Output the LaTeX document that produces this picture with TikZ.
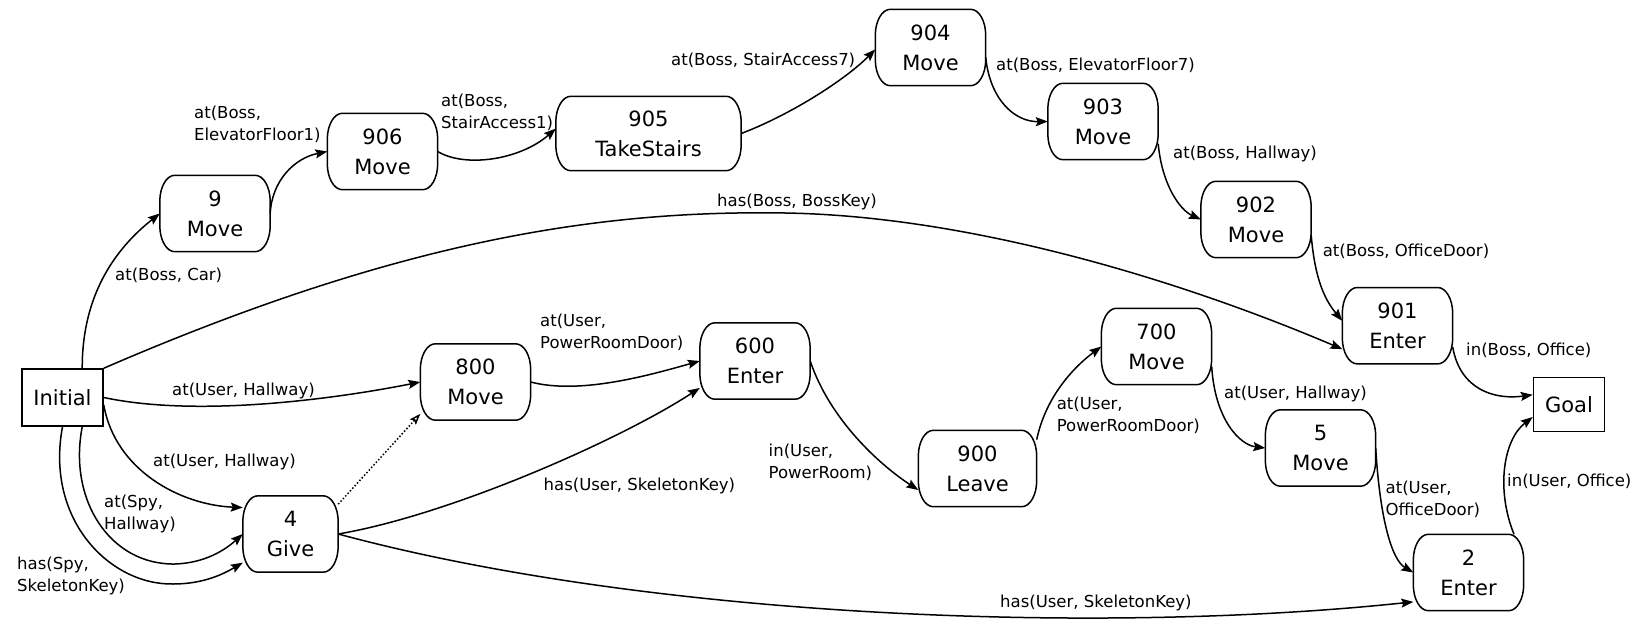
\documentclass[tikz,border=0pt]{standalone}
\usepackage{fontspec}
\setmainfont{DejaVu Sans}
\usetikzlibrary{arrows.meta}
\begin{document}
\begin{tikzpicture}[x=1pt,y=-1pt,
  act/.style={minimum width=110pt, minimum height=76pt, inner sep=0pt, align=center,
    font=\fontsize{21}{30}\selectfont,
    % outline with flat top and bottom and elliptic corners
    append after command={\pgfextra{\draw[line width=1.5pt]
      ([xshift=15pt]\tikzlastnode.north west) -- ([xshift=-15pt]\tikzlastnode.north east)
      .. controls +(8.3pt,0pt) and +(0pt,14.3pt) .. ([yshift=-26pt]\tikzlastnode.north east)
      -- ([yshift=26pt]\tikzlastnode.south east)
      .. controls +(0pt,-14.3pt) and +(8.3pt,0pt) .. ([xshift=-15pt]\tikzlastnode.south east)
      -- ([xshift=15pt]\tikzlastnode.south west)
      .. controls +(-8.3pt,0pt) and +(0pt,-14.3pt) .. ([yshift=26pt]\tikzlastnode.south west)
      -- ([yshift=-26pt]\tikzlastnode.north west)
      .. controls +(0pt,14.3pt) and +(-8.3pt,0pt) .. cycle;}}},
  term/.style={draw, line width=1.5pt, inner sep=0pt, align=center, font=\fontsize{21}{30}\selectfont},
  lbl/.style={anchor=west, align=left, inner sep=0pt, font=\fontsize{16.5}{22}\selectfont},
  link/.style={line width=1.5pt, -{Stealth[length=12pt,width=9pt,inset=2pt]}},
  weak/.style={line width=1.5pt, dotted, -{Stealth[open,length=11pt,width=8pt,inset=2pt]}}
]
\fill[white] (0,0) rectangle (1642,621);
\useasboundingbox (0,0) rectangle (1642,621);

% states
\node[term, minimum width=81pt, minimum height=57pt] (init) at (62.5,397.5) {Initial};
\node[term, minimum width=71pt, minimum height=54pt] (goal) at (1569,404.5) {Goal};

% actions
\node[act] (n9)   at (215,213.5)   {9\\Move};
\node[act] (n906) at (382.5,151.5) {906\\Move};
\node[act, minimum width=185pt, minimum height=74pt] (n905) at (648.5,133.5) {905\\TakeStairs};
\node[act] (n904) at (930.5,47.5)  {904\\Move};
\node[act] (n903) at (1103,121.5)  {903\\Move};
\node[act] (n902) at (1256,219.5)  {902\\Move};
\node[act] (n901) at (1397.5,325.7) {901\\Enter};
\node[act] (n800) at (475.5,382)   {800\\Move};
\node[act] (n600) at (755,361)     {600\\Enter};
\node[act, minimum width=118pt] (n900) at (977.5,468.5) {900\\Leave};
\node[act] (n700) at (1156.5,346.5) {700\\Move};
\node[act] (n5)   at (1320.5,448)  {5\\Move};
\node[act] (n2)   at (1468.5,572.5) {2\\Enter};
\node[act, minimum width=95pt] (n4) at (290.5,534) {4\\Give};

% Boss chain
\draw[link] (init.56) .. controls (82,290) and (120,245) .. (n9.west);
\draw[link] (n9.east) .. controls (272,180) and (295,158) .. (n906.west);
\draw[link] (n906.east) .. controls (465,168) and (520,160) .. (n905.177);
\draw[link] (n905.east) .. controls (790,115) and (845,80) .. (n904.182);
\draw[link] (n904.-10) .. controls (990,100) and (1015,122) .. (n903.west);
\draw[link] (n903.-22) .. controls (1162,185) and (1180,210) .. (n902.west);
\draw[link] (n902.-16) .. controls (1315,280) and (1325,300) .. (n901.175);
\draw[link] (init.north east) .. controls (400,240) and (600,210) .. (785,213)
  .. controls (970,216) and (1180,280) .. (n901.203);
\draw[link] (n901.-21) .. controls (1460,390) and (1495,400) .. (goal.165);

% User chain
\draw[link] (init.east) .. controls (200,418) and (340,398) .. (n800.west);
\draw[link] (n800.east) .. controls (580,395) and (650,375) .. (n600.west);
\draw[link] (n600.east) .. controls (830,420) and (880,465) .. (n900.200);
\draw[link] (n900.26) .. controls (1045,400) and (1070,370) .. (n700.west);
\draw[link] (n700.-20) .. controls (1215,420) and (1240,445) .. (n5.west);
\draw[link] (n5.east) .. controls (1380,520) and (1392,560) .. (n2.west);
\draw[link] (n2.40) .. controls (1496,490) and (1503,440) .. (goal.199);

% Spy and Give
\draw[link] (init.-10) .. controls (115,470) and (180,505) .. (n4.151);
\draw[link] (init.-56) .. controls (68,500) and (110,565) .. (175,564)
  .. controls (205,563) and (225,550) .. (n4.west);
\draw[link] (init.south) .. controls (45,520) and (110,585) .. (173,584)
  .. controls (205,584) and (225,573) .. (n4.211);
\draw[weak] (n4.32) -- (n800.210);
\draw[link] (n4.east) .. controls (450,515) and (620,440) .. (n600.206);
\draw[link] (n4.east) .. controls (650,618) and (1100,635) .. (n2.208);

% condition labels
\node[lbl] (l1)  at (115,275)    {at(Boss, Car)};
\node[lbl] (l2)  at (194,124.5)  {at(Boss,\\ElevatorFloor1)};
\node[lbl] (l3)  at (441,112.5)  {at(Boss,\\StairAccess1)};
\node[lbl] (l4)  at (671,60)     {at(Boss, StairAccess7)};
\node[lbl] (l5)  at (996,65)     {at(Boss, ElevatorFloor7)};
\node[lbl] (l6)  at (1173,154)   {at(Boss, Hallway)};
\node[lbl] (l7)  at (717,202)    {has(Boss, BossKey)};
\node[lbl] (l8)  at (1322.6,251) {at(Boss, OfficeDoor)};
\node[lbl] (l9)  at (1466,350)   {in(Boss, Office)};
\node[lbl] (l10) at (172,391)    {at(User, Hallway)};
\node[lbl] (l11) at (540,332)    {at(User,\\PowerRoomDoor)};
\node[lbl] (l12) at (768.5,462)  {in(User,\\PowerRoom)};
\node[lbl] (l13) at (1056.6,415) {at(User,\\PowerRoomDoor)};
\node[lbl] (l14) at (1224,394)   {at(User, Hallway)};
\node[lbl] (l15) at (1385.5,499.5) {at(User,\\OfficeDoor)};
\node[lbl] (l16) at (1507,481)   {in(User, Office)};
\node[lbl] (l17) at (153,462)    {at(User, Hallway)};
\node[lbl] (l18) at (104,513.5)  {at(Spy,\\Hallway)};
\node[lbl] (l19) at (17,576)     {has(Spy,\\SkeletonKey)};
\node[lbl] (l20) at (543.5,486)  {has(User, SkeletonKey)};
\node[lbl] (l21) at (1000,603)   {has(User, SkeletonKey)};
\end{tikzpicture}
\end{document}
